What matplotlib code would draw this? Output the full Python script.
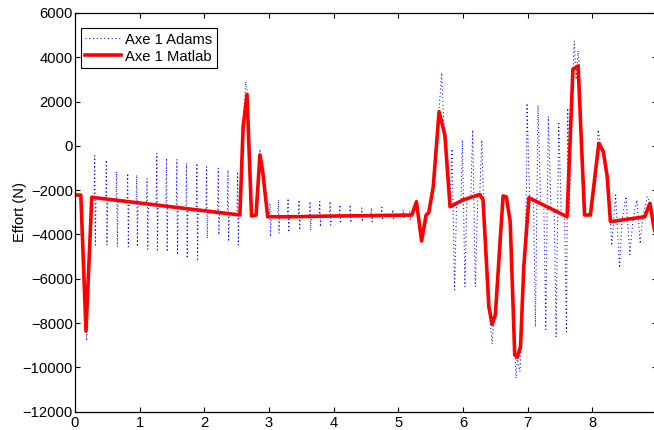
import matplotlib
matplotlib.use('Agg')
import matplotlib.pyplot as plt

plt.rcParams['font.family'] = ['Liberation Sans', 'DejaVu Sans']
plt.rcParams['font.size'] = 10.6

# Axe 1 Adams (dotted, oscillating)
adams_t = [0.00, 0.09, 0.13, 0.18, 0.22, 0.26,
           0.295, 0.305, 0.315, 0.325, 0.475, 0.485, 0.495, 0.505,
           0.635, 0.645, 0.655, 0.665, 0.805, 0.815, 0.825, 0.835,
           0.945, 0.955, 0.965, 0.975, 1.105, 1.115, 1.125, 1.135,
           1.255, 1.265, 1.275, 1.285, 1.405, 1.415, 1.425, 1.435,
           1.565, 1.575, 1.585, 1.595, 1.715, 1.725, 1.735, 1.745,
           1.875, 1.885, 1.895, 1.905, 2.025, 2.035, 2.045, 2.055,
           2.205, 2.215, 2.225, 2.235, 2.355, 2.365, 2.375, 2.385,
           2.505, 2.515, 2.525, 2.535,
           2.55, 2.60, 2.64, 2.67, 2.70, 2.74, 2.80, 2.86, 2.90, 2.94, 2.97,
           3.005, 3.015, 3.025, 3.035, 3.135, 3.145, 3.155, 3.165,
           3.285, 3.295, 3.305, 3.315, 3.455, 3.465, 3.475, 3.485,
           3.625, 3.635, 3.645, 3.655, 3.775, 3.785, 3.795, 3.805,
           3.935, 3.945, 3.955, 3.965, 4.085, 4.095, 4.105, 4.115,
           4.245, 4.255, 4.265, 4.275, 4.425, 4.435, 4.445, 4.455,
           4.575, 4.585, 4.595, 4.605, 4.735, 4.745, 4.755, 4.765,
           4.905, 4.915, 4.925, 4.935, 5.065, 5.075, 5.085, 5.095,
           5.165, 5.175, 5.185, 5.195,
           5.21, 5.28, 5.36, 5.43, 5.47, 5.54, 5.60, 5.63, 5.67, 5.70, 5.72, 5.76, 5.80,
           5.83, 5.87, 5.90, 5.97, 5.99, 6.03, 6.06, 6.12, 6.15, 6.19, 6.23, 6.26, 6.29,
           6.32, 6.36, 6.40, 6.45, 6.47, 6.50, 6.55, 6.62, 6.67, 6.73, 6.78, 6.82,
           6.84, 6.88, 6.90, 6.94, 6.98,
           6.99, 7.03, 7.09, 7.12, 7.16, 7.20, 7.25, 7.28, 7.32, 7.36, 7.41, 7.44,
           7.48, 7.52, 7.57, 7.60, 7.62,
           7.64, 7.68, 7.72, 7.75, 7.78, 7.80, 7.84, 7.88, 7.97, 8.06, 8.09, 8.12,
           8.17, 8.23, 8.28,
           8.30, 8.33, 8.36, 8.42, 8.46, 8.52, 8.58, 8.63, 8.69, 8.74, 8.78, 8.85,
           8.89, 8.96, 9.00]
adams_f = [-2220, -2220, -5000, -8800, -6000, -2400,
           -2340, -440, -4475, -2345, -2395, -640, -4475, -2405,
           -2455, -1165, -4550, -2465, -2510, -1240, -4550, -2520,
           -2560, -1315, -4550, -2570, -2615, -1460, -4670, -2625,
           -2670, -330, -4700, -2680, -2720, -560, -4780, -2730,
           -2775, -600, -4925, -2785, -2830, -785, -5080, -2840,
           -2885, -785, -5120, -2895, -2940, -940, -4180, -2950,
           -3000, -1010, -4020, -3010, -3055, -1090, -4320, -3065,
           -3105, -1165, -4475, -3115,
           -3120, 870, 2900, 2330, -1000, -3165, -3120, -150, -1090, -2500, -3200,
           -3200, -2580, -4100, -3190, -3190, -2440, -3950, -3190,
           -3185, -2370, -3900, -3185, -3180, -2440, -3800, -3180,
           -3175, -2510, -3800, -3175, -3170, -2510, -3650, -3170,
           -3170, -2510, -3580, -3170, -3165, -2660, -3500, -3165,
           -3160, -2660, -3470, -3160, -3155, -2800, -3420, -3155,
           -3150, -2800, -3420, -3150, -3145, -2770, -3350, -3145,
           -3140, -2880, -3330, -3140, -3130, -2880, -3290, -3130,
           -3125, -2950, -3350, -3125,
           -3120, -2450, -4300, -3120, -2950, -1800, 1000, 1600, 3300, 1200, 490, -1500, -2745,
           -140, -6500, -2650, -2500, 270, -6360, -2420, -2330, 720, -6360, -2230, -2190, 270,
           -2600, -5000, -7260, -8945, -8056, -7635, -4500, -2260, -2300, -3420, -7500, -10500,
           -9545, -10200, -9065, -5455, -2340,
           1925, -2350, -2440, -8165, 1830, -2600, -2680, -8285, 1330, -2840, -2920, -8620,
           1090, -3070, -3150, -8390, 1700,
           -3000, 1000, 4750, 3000, 4300, 3600, -500, -3120, -3120, -1500, 720, 200,
           -260, -1390, -3420,
           -4500, -3380, -2220, -5500, -3330, -2290, -4900, -3270, -2440, -4420, -3220, -2290,
           -2590, -3800, -4000]

# Axe 1 Matlab (thick red)
matlab_t = [0, 0.09, 0.17, 0.26, 2.55, 2.60, 2.66, 2.73, 2.80, 2.86, 2.90, 2.98,
            3.3, 3.9, 4.5, 5.21, 5.28, 5.36, 5.43, 5.47, 5.54, 5.63, 5.72, 5.80,
            6.0, 6.26, 6.31, 6.40, 6.45, 6.50, 6.62, 6.67, 6.73, 6.80, 6.84, 6.89,
            6.94, 7.02, 7.61, 7.70, 7.78, 7.88, 7.97, 8.10, 8.17, 8.23, 8.28, 8.81,
            8.89, 8.96, 9.0]
matlab_f = [-2220, -2220, -8357, -2320, -3120, 870, 2330, -3165, -3120, -410, -1090, -3200,
            -3200, -3170, -3150, -3120, -2520, -4294, -3120, -3020, -1840, 1545, 490, -2745,
            -2440, -2190, -2440, -7260, -8056, -7635, -2260, -2300, -3420, -9440, -9545, -9065,
            -5455, -2340, -3200, 3470, 3610, -3120, -3120, 117, -260, -1390, -3420, -3200,
            -2590, -3800, -4050]

xticks = [0, 1, 2, 3, 4, 5, 6, 7, 8, 9]
yticks = [-12000, -10000, -8000, -6000, -4000, -2000, 0, 2000, 4000, 6000]

fig = plt.figure(figsize=(6.54, 4.30), dpi=100)
ax = fig.add_axes([75 / 654, 18.3 / 430, 582 / 654, 398.7 / 430])

ax.plot(adams_t, adams_f, color='blue', linewidth=0.75, linestyle=(0, (1, 2.6)), label='Axe 1 Adams')
ax.plot(matlab_t, matlab_f, color='red', linewidth=2.6, label='Axe 1 Matlab')

ax.set_xlim(0, 9)
ax.set_ylim(-12000, 6000)
ax.set_xticks(xticks)
ax.set_yticks(yticks)
ax.set_ylabel('Effort (N)')
ax.yaxis.set_label_coords(-0.083, 0.5)

ax.tick_params(direction='in', length=3.5, width=0.8, top=True, right=True)
ax.tick_params(axis='y', pad=1.5)
ax.tick_params(axis='x', pad=3)
for s in ax.spines.values():
    s.set_linewidth(0.9)

leg = ax.legend(loc='upper left', bbox_to_anchor=(0.0103, 0.962), borderaxespad=0,
                fancybox=False, edgecolor='black', framealpha=1,
                handlelength=2.4, handletextpad=0.3, labelspacing=0.2, borderpad=0.3)
leg.get_frame().set_linewidth(0.8)

fig.savefig('out.png', dpi=100)
